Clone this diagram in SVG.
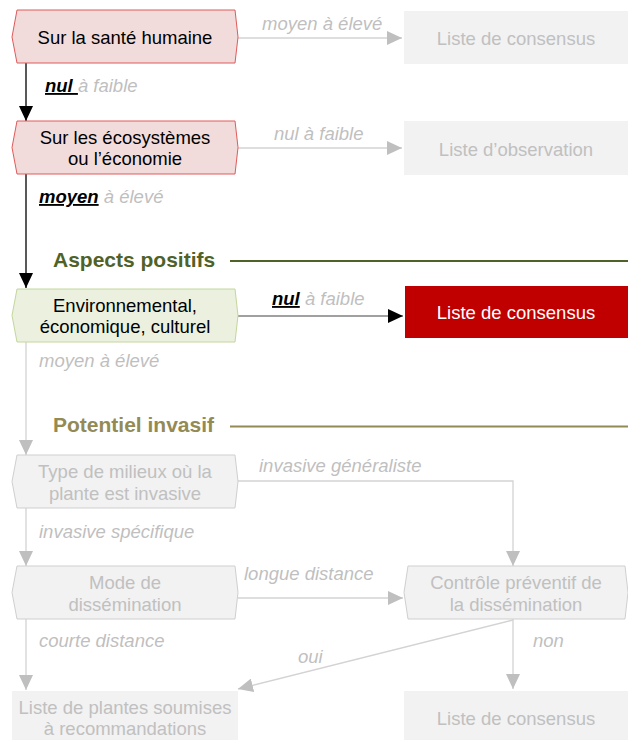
<svg xmlns="http://www.w3.org/2000/svg" width="628" height="740" viewBox="0 0 628 740">
<style>
text{font-family:"Liberation Sans",Arial,sans-serif;font-size:18.5px}
.nt{text-anchor:middle;fill:#000}
.gt{text-anchor:middle;fill:#c0c0c0}
.wt{text-anchor:middle;fill:#fff}
.lb{font-style:italic;fill:#bfbfbf}
.em{font-weight:bold;fill:#000;text-decoration:underline}
.hd{font-size:21px;font-weight:bold}
.red{fill:#f2dcdb;stroke:#e05a5a;stroke-width:1}
.grn{fill:#ebf1de;stroke:#c3d69b;stroke-width:1}
.gry{fill:#f2f2f2;stroke:#cfcfcf;stroke-width:1}
.box{fill:#f2f2f2}
.cg{stroke:#d3d3d3;stroke-width:1.3;fill:none;marker-end:url(#ag)}
.ck{stroke:#000;stroke-width:1.3;fill:none;marker-end:url(#ak)}
.cd{stroke:#808080;stroke-width:1.3;fill:none;marker-end:url(#ak)}
</style>
<defs>
<marker id="ag" markerUnits="userSpaceOnUse" markerWidth="15" markerHeight="14" refX="15" refY="7" orient="auto"><path d="M0,0 L15,7 L0,14 z" fill="#bfbfbf"/></marker>
<marker id="ak" markerUnits="userSpaceOnUse" markerWidth="15" markerHeight="14" refX="15" refY="7" orient="auto"><path d="M0,0 L15,7 L0,14 z" fill="#000"/></marker>
</defs>
<rect width="628" height="740" fill="#fff"/>

<g id="headings">
<text class="hd" x="53" y="267" fill="#4f6228">Aspects positifs</text>
<line x1="230" y1="261" x2="628" y2="261" stroke="#4f6228" stroke-width="2"/>
<text class="hd" x="53" y="432" fill="#948a54">Potentiel invasif</text>
<line x1="230" y1="426.5" x2="628" y2="426.5" stroke="#948a54" stroke-width="2"/>
</g>

<g id="connectors">
<path class="cg" d="M238,38 H402"/>
<path class="ck" d="M26,63 V121"/>
<path class="cg" d="M238,148 H402"/>
<path class="ck" d="M26,174 V288"/>
<path class="cd" d="M238,316 H403"/>
<path class="cg" d="M26,342 V455"/>
<path class="cg" d="M238,481 H513 V566"/>
<path class="cg" d="M26,508 V566"/>
<path class="cg" d="M238,598 H403"/>
<path class="cg" d="M26,619 V690"/>
<path class="cg" d="M513,620 L238,689"/>
<path class="cg" d="M513,619 V689"/>
<text class="lb" x="262" y="30">moyen à élevé</text>
<text class="lb" x="45" y="92"><tspan class="em">nul </tspan>à faible</text>
<text class="lb" x="274" y="140">nul à faible</text>
<text class="lb" x="39" y="203"><tspan class="em">moyen</tspan> à élevé</text>
<text class="lb" x="272" y="305"><tspan class="em">nul</tspan> à faible</text>
<text class="lb" x="39" y="367">moyen à élevé</text>
<text class="lb" x="259" y="472">invasive généraliste</text>
<text class="lb" x="39" y="538">invasive spécifique</text>
<text class="lb" x="244" y="580">longue distance</text>
<text class="lb" x="39" y="647">courte distance</text>
<text class="lb" x="298" y="663">oui</text>
<text class="lb" x="533" y="647">non</text>
</g>

<g id="n1">
<polygon class="red" points="17,10 235,10 238,37 235,63 17,63 12,37"/>
<text class="nt" x="125" y="43.5">Sur la santé humaine</text>
</g>
<g id="n2">
<polygon class="red" points="17,121 235,121 238,147.5 235,174 17,174 12,147.5"/>
<text class="nt" x="125" y="143.5">Sur les écosystèmes</text>
<text class="nt" x="125" y="165">ou l’économie</text>
</g>
<g id="n3">
<polygon class="grn" points="17,289 235,289 238,315.5 235,342 17,342 12,315.5"/>
<text class="nt" x="125" y="311.5">Environnemental,</text>
<text class="nt" x="125" y="333">économique, culturel</text>
</g>
<g id="n4">
<polygon class="gry" points="17,455 235,455 238,481.5 235,508 17,508 12,481.5"/>
<text class="gt" x="125" y="477.5">Type de milieux où la</text>
<text class="gt" x="125" y="499.5">plante est invasive</text>
</g>
<g id="n5">
<polygon class="gry" points="17,566 235,566 238,592.5 235,619 17,619 12,592.5"/>
<text class="gt" x="125" y="589">Mode de</text>
<text class="gt" x="125" y="611">dissémination</text>
</g>
<g id="n6">
<polygon class="gry" points="408,566 625,566 628,592.5 625,619 408,619 404,592.5"/>
<text class="gt" x="516" y="589">Contrôle préventif de</text>
<text class="gt" x="516" y="611">la dissémination</text>
</g>
<g id="r1">
<rect class="box" x="404" y="11" width="224" height="53"/>
<text class="gt" x="516" y="45">Liste de consensus</text>
</g>
<g id="r2">
<rect class="box" x="404" y="121" width="224" height="54"/>
<text class="gt" x="516" y="156">Liste d’observation</text>
</g>
<g id="r3">
<rect x="405" y="286" width="223" height="52" fill="#c00000"/>
<text class="wt" x="516" y="318.5">Liste de consensus</text>
</g>
<g id="r4">
<rect class="box" x="12" y="691" width="226" height="49"/>
<text class="gt" x="125" y="713.5">Liste de plantes soumises</text>
<text class="gt" x="125" y="735">à recommandations</text>
</g>
<g id="r5">
<rect class="box" x="404" y="691" width="224" height="49"/>
<text class="gt" x="516" y="725">Liste de consensus</text>
</g>
</svg>
